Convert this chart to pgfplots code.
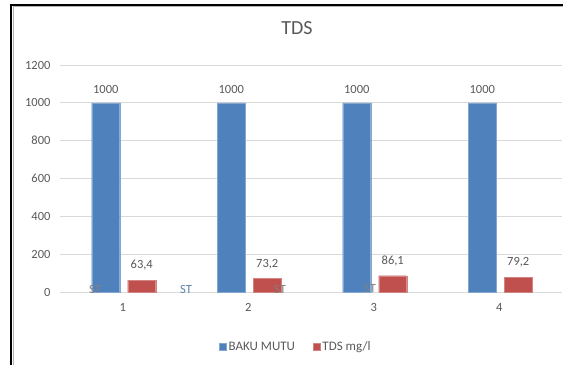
\documentclass[border=0pt]{standalone}
\usepackage{fontspec}
\setmainfont{Carlito}
\usepackage{pgfplots}
\pgfplotsset{compat=1.18}
\definecolor{cblue}{HTML}{4F81BD}
\definecolor{cred}{HTML}{C0504D}
\definecolor{txt}{HTML}{595959}
\definecolor{grd}{HTML}{D9D9D9}
\begin{document}
\begin{tikzpicture}
\useasboundingbox (0pt,0pt) rectangle (563pt,365pt);
\fill[white] (0pt,0pt) rectangle (563pt,365pt);
\draw[gray!60,line width=1pt] (13pt,0pt) -- (13pt,358pt) -- (563pt,358pt);
\draw[black,line width=1.6pt] (11pt,0pt) -- (11pt,360pt) -- (563pt,360pt);
\begin{axis}[
  at={(60pt,73pt)}, anchor=south west,
  scale only axis, width=502pt, height=227pt,
  xmin=0.5, xmax=4.5, ymin=0, ymax=1200,
  ytick={0,200,...,1200}, xtick={1,2,3,4},
  ymajorgrids, grid style={grd, line width=1pt},
  axis line style={draw=none}, major tick length=0pt,
  tick label style={font=\fontsize{12.5}{14}\selectfont, text=txt},
  /pgf/number format/assume math mode=true,
  /pgf/number format/use comma,
  /pgf/number format/1000 sep={},
  yticklabel style={xshift=-6pt},
  xticklabel style={yshift=-8pt},
  ybar, bar width=28pt,
  nodes near coords,
  every node near coord/.append style={font=\fontsize{12.5}{14}\selectfont, text=txt, yshift=6pt},
  legend columns=2,
  legend style={at={(0.47,-0.242)}, anchor=center, draw=none, fill=none,
    font=\fontsize{13}{14}\selectfont, text=txt,
    nodes={inner xsep=2pt},
    /tikz/every even column/.append style={column sep=16pt}},
  legend image code/.code={\fill[#1] (0pt,-3.5pt) rectangle (7pt,3.5pt);},
  clip=false,
]
\addplot[fill=cblue, draw=cblue!70!white, bar shift=-17pt] coordinates {(1,1000) (2,1000) (3,1000) (4,1000)};
\addplot[fill=cred, draw=cred!70!white, bar shift=19pt] coordinates {(1,63.4) (2,73.2) (3,86.1) (4,79.2)};
\legend{BAKU MUTU, TDS mg/l}
\node[font=\fontsize{12.5}{14}\selectfont, text=gray] at (axis cs:0.779,12) {ST};
\node[font=\fontsize{12.5}{14}\selectfont, text=cblue!70!gray] at (axis cs:1.504,12) {ST};
\node[font=\fontsize{12.5}{14}\selectfont, text=gray] at (axis cs:2.253,12) {ST};
\node[font=\fontsize{12.5}{14}\selectfont, text=gray] at (axis cs:2.97,16) {ST};
\node[font=\fontsize{20}{22}\selectfont, text=txt] at (rel axis cs:0.472,1.163) {TDS};
\end{axis}
\end{tikzpicture}
\end{document}
